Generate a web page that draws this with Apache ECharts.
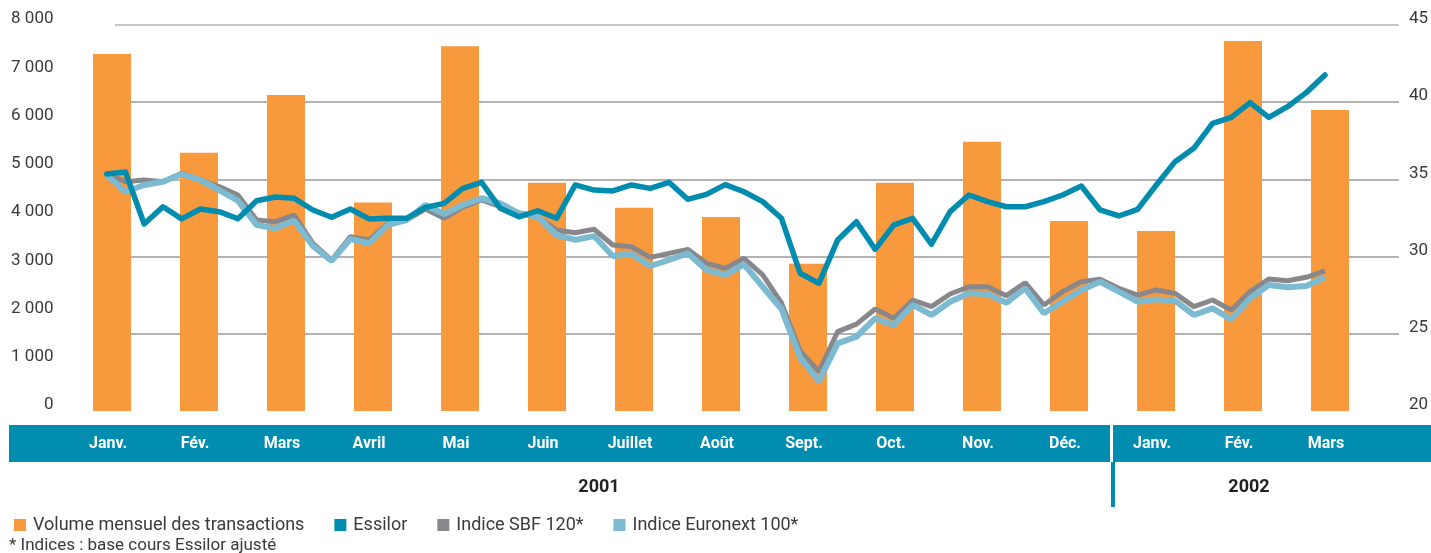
<!DOCTYPE html>
<html>
<head>
<meta charset="utf-8">
<title>Essilor - volume et cours</title>
<script src="https://cdn.jsdelivr.net/npm/echarts@6/dist/echarts.min.js"></script>
<style>
  html, body { margin: 0; padding: 0; background: #fff; }
  #chart { width: 1431px; height: 553px; }
</style>
</head>
<body>
<div id="chart"></div>
<script>
// mois affichés sous les barres
var months = ['Janv.', 'Fév.', 'Mars', 'Avril', 'Mai', 'Juin', 'Juillet', 'Août', 'Sept.', 'Oct.', 'Nov.', 'Déc.', 'Janv.', 'Fév.', 'Mars'];
// volume mensuel des transactions (milliers de titres)
var volume = [7400, 5350, 6550, 4320, 7560, 4730, 4210, 4020, 3050, 4730, 5580, 3940, 3730, 7670, 6240];

// cours hebdomadaires (euros), 66 semaines de janv. 2001 à mars 2002
var essilor = [35.35, 35.48, 32.11, 33.23, 32.44, 33.08, 32.91, 32.45, 33.62, 33.86,
  33.78, 33.02, 32.55, 33.08, 32.44, 32.48, 32.48, 33.19, 33.45, 34.42,
  34.81, 33.13, 32.58, 32.97, 32.48, 34.64, 34.31, 34.25, 34.64, 34.42,
  34.81, 33.71, 34.03, 34.66, 34.20, 33.56, 32.48, 28.92, 28.27, 31.08,
  32.26, 30.47, 32.05, 32.48, 30.80, 32.91, 33.99, 33.56, 33.23, 33.23,
  33.56, 33.99, 34.57, 33.02, 32.63, 33.06, 34.64, 36.15, 37.01, 38.63,
  39.02, 39.97, 39.02, 39.71, 40.62, 41.76];
var sbf120 = [35.35, 34.85, 34.96, 34.85, 35.40, 34.96, 34.53, 33.99, 32.37, 32.26,
  32.69, 30.86, 29.78, 31.29, 31.08, 32.16, 32.37, 33.08, 32.48, 33.21,
  33.67, 33.23, 32.84, 32.58, 31.72, 31.55, 31.77, 30.75, 30.64, 29.95,
  30.21, 30.47, 29.57, 29.24, 29.89, 28.81, 27.00, 23.89, 22.55, 25.14,
  25.63, 26.61, 26.00, 27.19, 26.76, 27.58, 28.05, 28.05, 27.47, 28.31,
  26.87, 27.73, 28.37, 28.53, 27.95, 27.51, 27.84, 27.62, 26.76, 27.19,
  26.54, 27.73, 28.55, 28.44, 28.66, 29.07];
var euronext100 = [35.28, 34.20, 34.64, 34.85, 35.35, 34.96, 34.31, 33.63, 32.05, 31.83,
  32.34, 30.69, 29.72, 31.14, 30.86, 32.05, 32.37, 33.34, 32.76, 33.34,
  33.78, 33.45, 32.80, 32.58, 31.40, 31.08, 31.33, 30.04, 30.17, 29.39,
  29.78, 30.21, 29.13, 28.81, 29.50, 28.05, 26.61, 23.46, 21.94, 24.38,
  24.81, 26.00, 25.57, 26.87, 26.22, 27.08, 27.62, 27.58, 27.01, 27.95,
  26.33, 27.08, 27.84, 28.37, 27.73, 27.08, 27.23, 27.14, 26.22, 26.65,
  25.94, 27.30, 28.16, 28.01, 28.10, 28.66];

var years = ['2001', '2002'];
var legendNames = ['Volume mensuel des transactions', 'Essilor', 'Indice SBF 120*', 'Indice Euronext 100*'];
var footnote = '* Indices : base cours Essilor ajusté';

var teal = '#008DB0';
var font = 'Roboto, "Liberation Sans", sans-serif';

function toPairs(arr) {
    return arr.map(function (v, i) { return [i, v]; });
}

var chart = echarts.init(document.getElementById('chart'));
chart.setOption({
    animation: false,
    backgroundColor: '#fff',
    textStyle: { fontFamily: font },
    grid: [
        { left: 68.5, right: 57.5, top: 25, bottom: 142 },   // barres
        { left: 106.7, right: 106, top: 25, bottom: 142 },   // courbes
        { left: 115, right: 31, top: 25, bottom: 142 }       // quadrillage + axe droit
    ],
    legend: {
        data: legendNames,
        left: 9,
        top: 511,
        icon: 'rect',
        itemWidth: 12,
        itemHeight: 12,
        itemGap: 30,
        textStyle: { fontSize: 18, color: '#3a3a3a', padding: [0, 0, 0, 2] }
    },
    xAxis: [
        {
            type: 'category', gridIndex: 0, data: months, z: 5,
            axisLine: { show: false }, axisTick: { show: false },
            axisLabel: {
                color: '#fff', fontWeight: 'bold', fontSize: 16,
                margin: 14, lineHeight: 37, verticalAlign: 'top',
                padding: [0, 8, 0, 0], interval: 0
            }
        },
        { type: 'value', gridIndex: 1, min: 0, max: essilor.length - 1, show: false },
        { type: 'value', gridIndex: 2, min: 0, max: 1, show: false }
    ],
    yAxis: [
        {
            type: 'value', gridIndex: 0, min: 0, max: 8000, interval: 1000,
            axisLine: { show: false }, axisTick: { show: false }, splitLine: { show: false },
            axisLabel: {
                margin: 15, fontSize: 17, color: '#3a3a3a',
                verticalAlign: 'bottom', lineHeight: 12,
                formatter: function (v) { return String(v).replace(/\B(?=(\d{3})+(?!\d))/g, ' '); }
            }
        },
        { type: 'value', gridIndex: 1, min: 20, max: 45, show: false },
        {
            type: 'value', gridIndex: 2, position: 'right', min: 20, max: 45, interval: 5,
            axisLine: { show: false }, axisTick: { show: false },
            splitLine: {
                show: true,
                lineStyle: { color: ['transparent', '#9a9a9a', '#9a9a9a', '#9a9a9a', '#9a9a9a', '#b4b4b4'], width: 1.5 }
            },
            axisLabel: { margin: 10, fontSize: 17, color: '#3a3a3a', verticalAlign: 'bottom', lineHeight: 12 }
        }
    ],
    series: [
        {
            name: legendNames[0], type: 'bar', xAxisIndex: 0, yAxisIndex: 0,
            data: volume, barWidth: 38, itemStyle: { color: '#F7993C' }
        },
        {
            name: legendNames[2], type: 'line', xAxisIndex: 1, yAxisIndex: 1,
            data: toPairs(sbf120), showSymbol: false, z: 3,
            lineStyle: { color: '#88888C', width: 5 }, itemStyle: { color: '#88888C' }
        },
        {
            name: legendNames[3], type: 'line', xAxisIndex: 1, yAxisIndex: 1,
            data: toPairs(euronext100), showSymbol: false, z: 4,
            lineStyle: { color: '#7BBAD0', width: 6 }, itemStyle: { color: '#7BBAD0' }
        },
        {
            name: legendNames[1], type: 'line', xAxisIndex: 1, yAxisIndex: 1,
            data: toPairs(essilor), showSymbol: false, z: 5,
            lineStyle: { color: '#008CAE', width: 5.5, cap: 'round', join: 'round' }, itemStyle: { color: '#008CAE' }
        }
    ],
    graphic: [
        // bandeau des mois
        { type: 'rect', z: 0, shape: { x: 9, y: 425, width: 1101, height: 37 }, style: { fill: teal } },
        { type: 'rect', z: 0, shape: { x: 1113, y: 425, width: 318, height: 37 }, style: { fill: teal } },
        { type: 'rect', z: 0, shape: { x: 1111, y: 462, width: 4, height: 45 }, style: { fill: teal } },
        // années
        { type: 'text', x: 599, y: 487, style: { text: years[0], font: 'bold 18px ' + font, fill: '#222', align: 'center', verticalAlign: 'middle' } },
        { type: 'text', x: 1249, y: 487, style: { text: years[1], font: 'bold 18px ' + font, fill: '#222', align: 'center', verticalAlign: 'middle' } },
        // note
        { type: 'text', x: 9, y: 546, style: { text: footnote, font: '17px ' + font, fill: '#3a3a3a', verticalAlign: 'middle' } }
    ]
});
</script>
</body>
</html>
